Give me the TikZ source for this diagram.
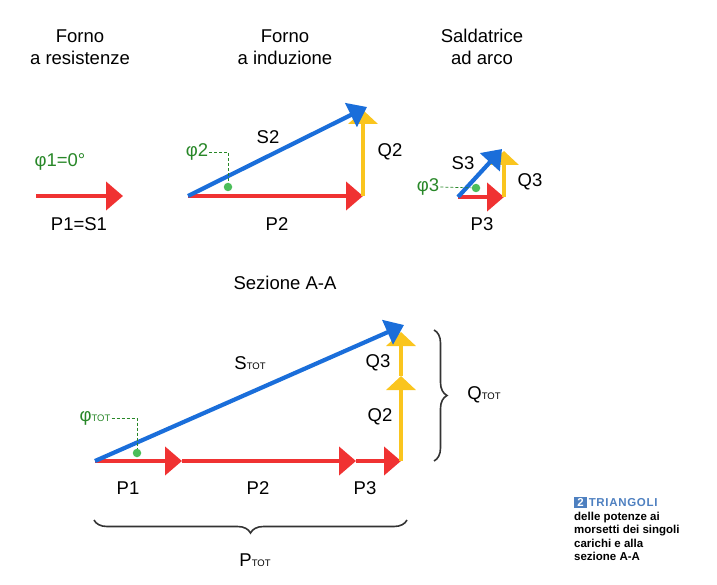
\documentclass[tikz,border=0pt]{standalone}
\usepackage{fontspec}
\setmainfont{Liberation Sans}
\usetikzlibrary{arrows.meta,positioning,decorations.pathreplacing}
\definecolor{pred}{RGB}{240,50,50}
\definecolor{qyellow}{RGB}{250,197,30}
\definecolor{sblue}{RGB}{26,110,218}
\definecolor{phigreen}{RGB}{40,135,40}
\definecolor{dotgreen}{RGB}{76,190,90}
\definecolor{capblue}{RGB}{78,128,192}
\newcommand{\subtot}{{\fontsize{9.5}{9.5}\selectfont TOT}}
\tikzset{/tri/P/.style={draw=pred, line width=4.2pt, -{Triangle[length=17pt,width=28pt]}}}
\tikzset{/tri/Q/.style={draw=qyellow, line width=4pt, -{Triangle[length=14pt,width=29pt]}}}
\tikzset{/tri/S/.style={draw=sblue, line width=4.2pt, -{Triangle[length=18pt,width=26pt]}}}
\tikzset{/tri/lbl/.style={inner sep=0, font=\fontsize{18.5}{21}\selectfont}}
\tikzset{/tri/head/.style={inner sep=0, align=center, font=\fontsize{18.5}{22.5}\selectfont}}
\tikzset{/tri/phi/.style={inner sep=1pt, text=phigreen, font=\fontsize{18.5}{21}\selectfont}}
\tikzset{/tri/dot/.style={circle, fill=dotgreen, inner sep=0, minimum size=8.5pt}}
\tikzset{/tri/lead/.style={draw=phigreen, line width=0.7pt, dash pattern=on 3pt off 2pt}}
\tikzset{/tri/brace/.style={draw=black!80, line width=1.6pt, decorate, decoration={brace, amplitude=13pt}}}

\begin{document}
\begin{tikzpicture}[x=1pt, y=-1pt]
	\useasboundingbox (0,0) rectangle (717,585);
	% titoli
	\path (80,47) node[/tri/head] (Forno1) {Forno\\a resistenze};
	\path (285,47) node[/tri/head] (Forno2) {Forno\\a induzione};
	\path (482,47) node[/tri/head] (Sald) {Saldatrice\\ad arco};
	% forno a resistenze
	\coordinate (O1) at (36,196);
	\coordinate (P1e) at (123,196);
	\path[/tri/P] (O1) -- (P1e);
	\path (60,162) node[/tri/phi] (Phi1) {φ1=0°};
	\path (79,224) node[/tri/lbl] (LP1) {P1=S1};
	% forno a induzione
	\coordinate (O2) at (188,196);
	\coordinate (P2e) at (363,196);
	\coordinate (Q2e) at (363,110);
	\coordinate (S2e) at (367,107);
	\path[/tri/P] (O2) -- (P2e);
	\path[/tri/Q] (P2e) -- (Q2e);
	\path[/tri/S] (O2) -- (S2e);
	\path (268,137) node[/tri/lbl] (LS2) {S2};
	\path (390,152) node[/tri/lbl] (LQ2) {Q2};
	\path (277,224) node[/tri/lbl] (LP2) {P2};
	\path (197,152) node[/tri/phi] (Phi2) {φ2};
	\node[/tri/dot] (Dot2) at (228,187) {};
	\path[/tri/lead] (Phi2.east) -| (Dot2);
	% saldatrice ad arco
	\coordinate (O3) at (458,197);
	\coordinate (P3e) at (504,197);
	\coordinate (Q3e) at (504,151);
	\coordinate (S3e) at (502,149);
	\path[/tri/P] (O3) -- (P3e);
	\path[/tri/Q] (P3e) -- (Q3e);
	\path[/tri/S] (O3) -- (S3e);
	\path (463,163) node[/tri/lbl] (LS3) {S3};
	\path (530,182) node[/tri/lbl] (LQ3) {Q3};
	\path (482,224) node[/tri/lbl] (LP3) {P3};
	\path (428,187) node[/tri/phi] (Phi3) {φ3};
	\node[/tri/dot] (Dot3) at (476,188) {};
	\path[/tri/lead] (Phi3.east) -- (Dot3);
	% sezione A-A
	\path (285,283) node[/tri/lbl] (Sez) {Sezione A-A};
	\coordinate (O) at (95,461);
	\coordinate (A) at (182,461);
	\coordinate (B) at (356,461);
	\coordinate (C) at (401,461);
	\coordinate (D) at (401,376);
	\coordinate (E) at (401,332);
	\coordinate (F) at (404,325);
	\path[/tri/P] (O) -- (A);
	\path[/tri/P] (A) -- (B);
	\path[/tri/P] (B) -- (C);
	\path[/tri/Q] (D) -- (E);
	\path[/tri/Q] (C) -- (D);
	\path[/tri/S] (O) -- (F);
	\path (250,363) node[/tri/lbl] (LStot) {S\subtot};
	\path (378,363) node[/tri/lbl] (LQ3b) {Q3};
	\path (380,417) node[/tri/lbl] (LQ2b) {Q2};
	\path (128,488) node[/tri/lbl] (LP1b) {P1};
	\path (258,488) node[/tri/lbl] (LP2b) {P2};
	\path (365,488) node[/tri/lbl] (LP3b) {P3};
	\path (95,418) node[/tri/phi] (PhiTot) {φ\subtot};
	\node[/tri/dot] (DotTot) at (137,453) {};
	\path[/tri/lead] (PhiTot.east) -| (DotTot);
	% graffe
	\coordinate (Bq1) at (434,330);
	\coordinate (Bq2) at (434,461);
	\coordinate (Bp1) at (407,520);
	\coordinate (Bp2) at (94,520);
	\path[/tri/brace] (Bq1) -- (Bq2);
	\path[/tri/brace] (Bp1) -- (Bp2);
	\path (484,395) node[/tri/lbl] (LQtot) {Q\subtot};
	\path (255,560) node[/tri/lbl] (LPtot) {P\subtot};
	% didascalia
	\path (574,497) node[anchor=north west, inner sep=0, align=left,
		font=\fontsize{11.5}{13.6}\selectfont\bfseries] (Cap)
		{{\setlength{\fboxsep}{1.2pt}\colorbox{capblue}{\textcolor{white}{\,2\,}}}\,\textcolor{capblue}{\addfontfeatures{LetterSpace=6}TRIANGOLI}\\
		delle potenze ai\\morsetti dei singoli\\carichi e alla\\sezione A-A};
\end{tikzpicture}
\end{document}
